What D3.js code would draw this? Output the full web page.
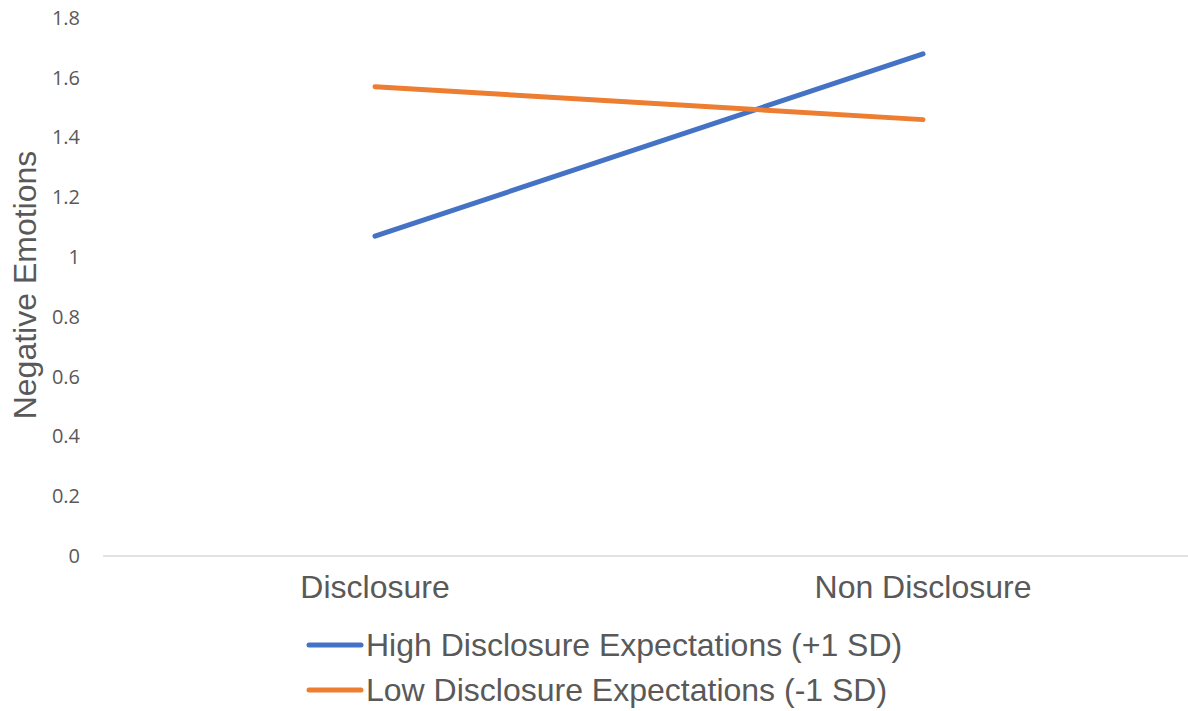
<!DOCTYPE html>
<html>
<head>
<meta charset="utf-8">
<script src="https://cdn.jsdelivr.net/npm/d3@7"></script>
<style>
  html, body { margin: 0; padding: 0; background: #fff; }
  svg { display: block; }
</style>
</head>
<body>
<svg id="chart" width="1188" height="711"></svg>
<script>
// Conditions on the x axis
const categories = ["Disclosure", "Non Disclosure"];
// Series names and their values at each condition
const seriesNames = ["High Disclosure Expectations (+1 SD)", "Low Disclosure Expectations (-1 SD)"];
const highValues = [1.07, 1.68];
const lowValues = [1.57, 1.46];
// Y axis ticks
const yTicks = [0, 0.2, 0.4, 0.6, 0.8, 1, 1.2, 1.4, 1.6, 1.8];
const yTitle = "Negative Emotions";

const colors = ["#4472C4", "#ED7D31"];
const textColor = "#595959";
const mainFont = "'Liberation Sans', Arial, sans-serif";

const svg = d3.select("#chart");
const W = 1188, H = 711;

const plot = { left: 101, right: 1197, top: 18, bottom: 556 };

const x = d3.scaleBand().domain(categories).range([plot.left, plot.right]);
const y = d3.scaleLinear().domain([0, 1.8]).range([plot.bottom, plot.top]);

// Horizontal category axis line
svg.append("line")
  .attr("x1", plot.left + 2).attr("x2", W)
  .attr("y1", y(0)).attr("y2", y(0))
  .attr("stroke", "#d9d9d9").attr("stroke-width", 1.5);

// Y tick labels
const yAxis = d3.axisLeft(y).tickValues(yTicks).tickSize(0).tickPadding(0)
  .tickFormat(d => d3.format("")(d));
const gy = svg.append("g").attr("transform", "translate(80,0)").call(yAxis);
gy.select(".domain").remove();
gy.selectAll("text")
  .attr("fill", textColor)
  .style("font-family", "'Open Sans', 'Liberation Sans', sans-serif")
  .style("font-size", "20px");

// Y axis title
svg.append("text")
  .attr("transform", `translate(25,${285}) rotate(-90)`)
  .attr("text-anchor", "middle")
  .attr("dominant-baseline", "central")
  .attr("fill", textColor)
  .style("font-family", mainFont)
  .style("font-size", "32px")
  .text(yTitle);

// Category labels
const xAxis = d3.axisBottom(x).tickSize(0).tickPadding(0);
const gx = svg.append("g").attr("transform", `translate(0,${plot.bottom + 31})`).call(xAxis);
gx.select(".domain").remove();
gx.selectAll("text")
  .attr("dy", 0)
  .attr("y", 0)
  .attr("dominant-baseline", "central")
  .attr("fill", textColor)
  .style("font-family", mainFont)
  .style("font-size", "32px");

// Series lines
const series = [highValues, lowValues];
const line = d3.line()
  .x((d, i) => x(categories[i]) + x.bandwidth() / 2)
  .y(d => y(d));

series.forEach((vals, k) => {
  svg.append("path")
    .datum(vals)
    .attr("d", line)
    .attr("fill", "none")
    .attr("stroke", colors[k])
    .attr("stroke-width", 5)
    .attr("stroke-linecap", "round");
});

// Legend
const legend = svg.append("g");
seriesNames.forEach((name, k) => {
  const ly = 645 + k * 45;
  legend.append("line")
    .attr("x1", 309).attr("x2", 361)
    .attr("y1", ly).attr("y2", ly)
    .attr("stroke", colors[k]).attr("stroke-width", 5)
    .attr("stroke-linecap", "round");
  legend.append("text")
    .attr("x", 366).attr("y", ly)
    .attr("dominant-baseline", "central")
    .attr("fill", textColor)
    .style("font-family", mainFont)
    .style("font-size", "32px")
    .text(name);
});
</script>
</body>
</html>
